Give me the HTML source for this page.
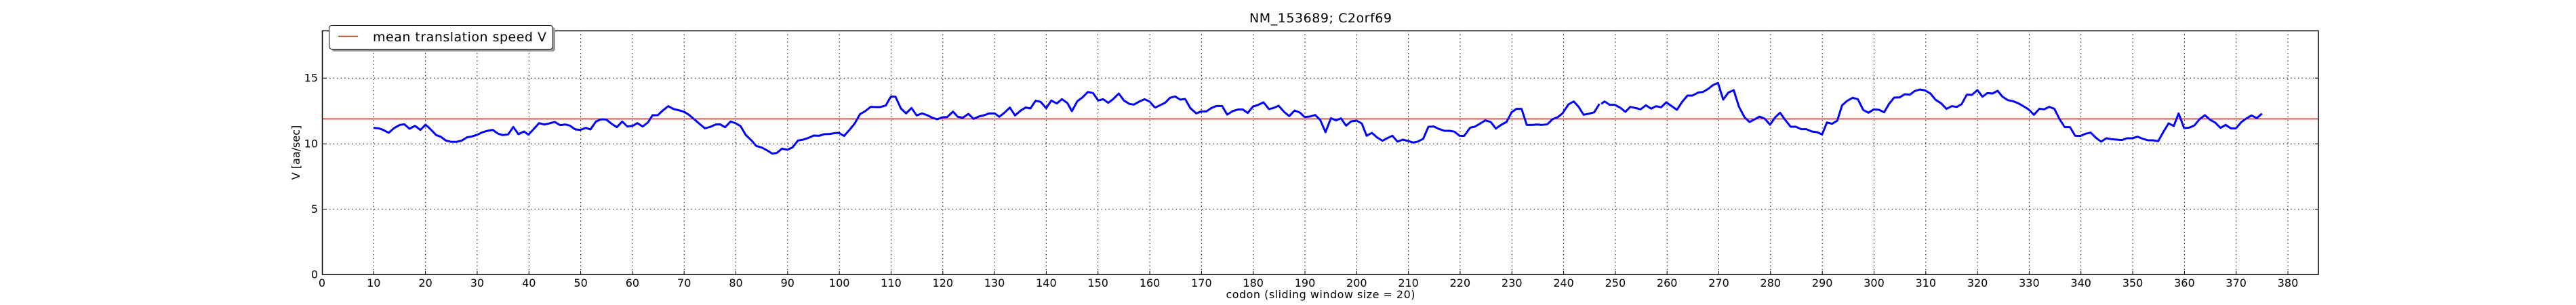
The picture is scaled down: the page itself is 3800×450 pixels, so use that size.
<!DOCTYPE html>
<html><head><meta charset="utf-8"><style>
html,body{margin:0;padding:0;background:#fff;}
svg{display:block;}
text{font-family:"DejaVu Sans","Liberation Sans",sans-serif;fill:#000;}
</style></head><body>
<svg width="3800" height="450" viewBox="0 0 3800 450" xmlns="http://www.w3.org/2000/svg">
<rect width="3800" height="450" fill="#fff"/>
<g stroke="#000" stroke-width="1" stroke-dasharray="1.5,4" fill="none">
<path d="M551.3,45V405M627.6,45V405M703.9,45V405M780.3,45V405M856.6,45V405M932.9,45V405M1009.2,45V405M1085.5,45V405M1161.8,45V405M1238.2,45V405M1314.5,45V405M1390.8,45V405M1467.1,45V405M1543.4,45V405M1619.7,45V405M1696.1,45V405M1772.4,45V405M1848.7,45V405M1925,45V405M2001.3,45V405M2077.6,45V405M2153.9,45V405M2230.3,45V405M2306.6,45V405M2382.9,45V405M2459.2,45V405M2535.5,45V405M2611.8,45V405M2688.2,45V405M2764.5,45V405M2840.8,45V405M2917.1,45V405M2993.4,45V405M3069.7,45V405M3146.1,45V405M3222.4,45V405M3298.7,45V405M3375,45V405"/>
<path d="M475,115.3H3420M475,212.3H3420M475,308.7H3420"/>
</g>
<line x1="475" y1="175.5" x2="3420" y2="175.5" stroke="#f00" stroke-width="1.6"/>
<g fill="none" stroke="#00f" stroke-width="3" stroke-linejoin="round">
<polyline vector-effect="non-scaling-stroke" transform="translate(380,0) scale(0.4464,0.3333)" points="383,566 400,568 415,575 433,588 452,566 470,553 485,550 502,570 520,557 538,575 555,552 570,570 590,598 605,605 622,622 640,628 657,628 675,622 692,608 708,604 725,597 742,586 760,579 777,575 795,592 810,598 828,595 845,562 862,594 880,582 895,596 912,572 930,545 948,551 965,546 982,540 1000,554 1017,551 1032,556 1050,573 1067,575 1085,566 1100,573 1118,538 1135,528 1152,529 1170,548 1187,563 1205,538 1222,560 1240,557 1255,545 1272,560 1290,542 1305,510 1322,510 1340,488 1357,470 1375,483 1392,488 1410,495 1425,508 1443,528 1460,548 1478,568 1495,562 1512,552"/>
<polyline vector-effect="non-scaling-stroke" transform="translate(1050,100) scale(0.4464,0.3333)" points="11,251 27,250 44,263 62,238 78,245 95,258 112,297 130,320 147,346 165,353 182,365 200,380 215,377 232,358 250,363 267,352 285,322 302,318 320,310 337,300 355,301 372,294 390,293 407,289 420,288 437,302 455,275 472,247 490,205 507,192 525,173 542,174 557,174 575,167 592,127 607,128 625,180 642,202 660,178 677,211 695,202 712,210 730,222 745,228 762,219 778,218 797,194 813,217 830,221 848,204 865,226 882,216 900,210 917,202 935,202 950,217 967,199 985,176 1002,211 1020,190 1037,176 1053,180 1070,146 1087,151 1105,179 1122,145 1140,158 1157,139 1175,156 1190,192 1208,148 1225,131 1243,107 1260,112 1277,145 1293,139 1310,155 1327,138 1345,114 1362,145 1380,160 1395,163 1412,150 1430,139 1447,150 1465,177"/>
<polyline vector-effect="non-scaling-stroke" transform="translate(1700,100) scale(0.4464,0.3333)" points="8,177 25,166 42,155 58,133 75,127 92,141 108,138 125,178 145,202 162,193 178,193 195,178 212,169 230,169 247,207 265,192 282,185 298,184 315,200 332,172 350,164 367,153 385,183 400,178 417,168 435,195 452,214 470,189 487,198 503,218 520,216 538,209 555,232 572,285 590,223 607,233 623,224 640,256 657,237 675,234 692,247 708,301 725,288 742,308 760,323 777,311 793,301 810,327 827,318 845,324 862,331 878,326 895,314 912,261 930,260 947,271 965,279 982,279 998,283 1015,301 1030,302 1050,265 1065,261 1083,247 1100,233 1118,240 1135,269 1153,252 1170,240 1187,197 1203,182 1220,182 1237,253 1255,253 1270,251 1288,253 1305,250 1322,228 1340,218 1355,202 1375,162 1392,149 1408,172 1425,208 1443,203 1460,197 1477,160"/>
<polyline vector-effect="non-scaling-stroke" transform="translate(2350,100) scale(0.4464,0.3333)" points="27,160 38,149 55,164 72,164 90,177 107,195 123,173 140,178 157,184 175,166 192,181 208,170 225,175 242,153 260,170 277,186 295,150 312,123 328,123 347,110 363,107 380,94 397,76 413,67 430,141 447,110 465,99 482,172 500,218 517,240 533,229 550,216 567,225 585,252 602,219 618,199 635,231 653,261 670,261 688,272 705,272 723,282 740,285 757,295 773,242 790,248 807,234 823,166 840,146 858,133 875,139 893,187 910,199 928,184 945,186 962,197 978,160 995,132 1013,131 1030,117 1047,119 1063,103 1080,96 1097,100 1115,114 1132,142 1150,157 1168,182 1185,170 1202,173 1218,161 1235,119 1252,120 1270,99 1287,128 1303,112 1320,114 1337,102 1353,128 1370,143 1388,148 1405,157 1422,170 1440,185 1457,208 1475,181"/>
<polyline vector-effect="non-scaling-stroke" transform="translate(3000,0) scale(0.5102,0.3333)" points="15,481 30,484 45,473 60,482 75,528 90,563 105,563 120,601 135,602 150,592 165,587 180,610 195,627 210,612 225,616 240,618 255,620 270,612 285,612 300,605 315,614 330,621 345,621 360,625 375,584 390,546 405,558 419,502 435,567 450,565 465,555 480,527 495,510 510,530 525,543 540,566 555,553 570,568 585,568 600,541 615,524 630,511 645,523 660,503"/>
</g>
<rect x="475.5" y="45.5" width="2944.5" height="359.5" fill="none" stroke="#000" stroke-width="1.5"/>
<g stroke="#000" stroke-width="1">
<path d="M551.3,405v-5M627.6,405v-5M703.9,405v-5M780.3,405v-5M856.6,405v-5M932.9,405v-5M1009.2,405v-5M1085.5,405v-5M1161.8,405v-5M1238.2,405v-5M1314.5,405v-5M1390.8,405v-5M1467.1,405v-5M1543.4,405v-5M1619.7,405v-5M1696.1,405v-5M1772.4,405v-5M1848.7,405v-5M1925,405v-5M2001.3,405v-5M2077.6,405v-5M2153.9,405v-5M2230.3,405v-5M2306.6,405v-5M2382.9,405v-5M2459.2,405v-5M2535.5,405v-5M2611.8,405v-5M2688.2,405v-5M2764.5,405v-5M2840.8,405v-5M2917.1,405v-5M2993.4,405v-5M3069.7,405v-5M3146.1,405v-5M3222.4,405v-5M3298.7,405v-5M3375,405v-5"/>
<path d="M476,115.3h5M476,212.3h5M476,308.7h5M3420,115.3h-5M3420,212.3h-5M3420,308.7h-5"/>
</g>
<g font-size="16" text-anchor="middle">
<text x="475" y="423">0</text><text x="551.3" y="423">10</text><text x="627.6" y="423">20</text><text x="703.9" y="423">30</text><text x="780.3" y="423">40</text><text x="856.6" y="423">50</text><text x="932.9" y="423">60</text><text x="1009.2" y="423">70</text><text x="1085.5" y="423">80</text><text x="1161.8" y="423">90</text><text x="1238.2" y="423">100</text><text x="1314.5" y="423">110</text><text x="1390.8" y="423">120</text><text x="1467.1" y="423">130</text><text x="1543.4" y="423">140</text><text x="1619.7" y="423">150</text><text x="1696.1" y="423">160</text><text x="1772.4" y="423">170</text><text x="1848.7" y="423">180</text><text x="1925" y="423">190</text><text x="2001.3" y="423">200</text><text x="2077.6" y="423">210</text><text x="2153.9" y="423">220</text><text x="2230.3" y="423">230</text><text x="2306.6" y="423">240</text><text x="2382.9" y="423">250</text><text x="2459.2" y="423">260</text><text x="2535.5" y="423">270</text><text x="2611.8" y="423">280</text><text x="2688.2" y="423">290</text><text x="2764.5" y="423">300</text><text x="2840.8" y="423">310</text><text x="2917.1" y="423">320</text><text x="2993.4" y="423">330</text><text x="3069.7" y="423">340</text><text x="3146.1" y="423">350</text><text x="3222.4" y="423">360</text><text x="3298.7" y="423">370</text><text x="3375" y="423">380</text>
</g>
<g font-size="16" text-anchor="end">
<text x="469" y="120.5">15</text><text x="469" y="217.5">10</text><text x="469" y="314">5</text><text x="469" y="410.5">0</text>
</g>
<text x="1948" y="440" font-size="16" text-anchor="middle" textLength="279">codon  (sliding window size = 20)</text>
<text x="1948" y="33" font-size="19" text-anchor="middle" textLength="210">NM_153689; C2orf69</text>
<text transform="translate(442,225) rotate(-90)" font-size="16" text-anchor="middle">V [aa/sec]</text>
<rect x="489" y="40" width="330" height="36" rx="4" fill="#999"/>
<rect x="485.5" y="37.5" width="330" height="35" rx="4" fill="#fff" stroke="#000" stroke-width="1"/>
<line x1="499" y1="53.5" x2="528" y2="53.5" stroke="#f00" stroke-width="1.6"/>
<text x="550" y="61" font-size="19" textLength="256">mean translation speed V</text>
</svg>
</body></html>
